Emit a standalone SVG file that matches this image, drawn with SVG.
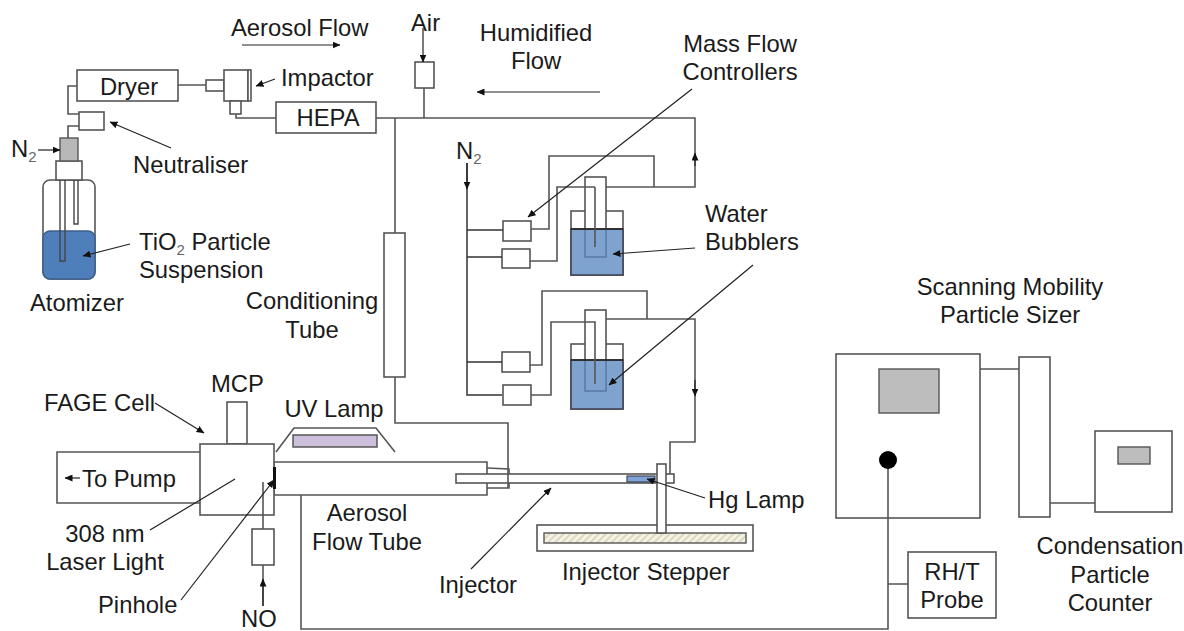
<svg xmlns="http://www.w3.org/2000/svg" width="1184" height="631" viewBox="0 0 1184 631">
<style>
text{font-family:"Liberation Sans",Arial,sans-serif;font-size:23.8px;fill:#1a1a1a}
.sub{font-size:15px;fill:#666}
.b{fill:#fff;stroke:#555;stroke-width:1.6}
.n{fill:none;stroke:#555;stroke-width:1.6}
.d{fill:none;stroke:#333;stroke-width:1.5}
.k{fill:none;stroke:#222;stroke-width:1.2}
.a{fill:none;stroke:#222;stroke-width:1.2;marker-end:url(#ah)}
.w{fill:#7fa3cf;stroke:#445;stroke-width:1.6}
</style>
<defs>
<marker id="ah" markerWidth="8" markerHeight="7" refX="7.5" refY="3.5" orient="auto" markerUnits="userSpaceOnUse"><path d="M0 0L8 3.5L0 7z" fill="#111"/></marker>
<pattern id="hatch" width="5" height="5" patternUnits="userSpaceOnUse" patternTransform="rotate(45)"><rect width="5" height="5" fill="#f4f2e4"/><rect width="2" height="5" fill="#ddd9c0"/></pattern>
</defs>
<rect width="1184" height="631" fill="#fff"/>
<g id="atomizer">
<rect class="b" x="43" y="180" width="52" height="99" rx="7"/>
<path d="M43 238a7 7 0 0 1 7-7h38a7 7 0 0 1 7 7v34a7 7 0 0 1-7 7H50a7 7 0 0 1-7-7z" fill="#4f7fbb" stroke="#3b5f8c" stroke-width="1.4"/>
<rect class="b" x="56" y="161" width="26" height="19"/>
<rect x="60" y="138" width="18" height="23" fill="#b8b8b8" stroke="#555" stroke-width="1.4"/>
<path d="M60 180V261H65V180M74 180V224H78V180" fill="none" stroke="#444" stroke-width="1.4"/>
</g>
<g id="dryer"><rect class="b" x="77" y="70" width="101" height="31"/></g>
<g id="neutraliser"><rect class="b" x="79" y="112" width="25" height="18"/></g>
<g id="impactor">
<rect class="b" x="206" y="80" width="18" height="11"/>
<rect class="b" x="224" y="70" width="24" height="31"/>
<rect class="b" x="248" y="70" width="3" height="31"/>
<rect class="b" x="230" y="101" width="11" height="13"/>
</g>
<g id="hepa"><rect class="b" x="276" y="102" width="100" height="31"/></g>
<g id="air-filter"><rect class="b" x="415" y="62" width="19" height="26"/></g>
<g id="conditioning-tube"><rect class="b" x="384" y="233" width="21" height="144"/></g>
<g id="mfc-1"><rect class="b" x="503" y="221" width="28" height="20"/></g>
<g id="mfc-2"><rect class="b" x="502" y="249" width="28" height="19"/></g>
<g id="mfc-3"><rect class="b" x="502" y="352" width="28" height="20"/></g>
<g id="mfc-4"><rect class="b" x="503" y="385" width="28" height="20"/></g>
<g id="bubbler-1">
<rect class="b" x="571" y="211" width="52" height="64"/>
<rect class="w" x="571" y="229" width="52" height="46"/>
<rect x="585" y="229" width="21" height="28" fill="none" stroke="#5577a0" stroke-width="1.4"/>
<rect x="585" y="177" width="21" height="52" class="b"/>
<path d="M571 229H623" stroke="#222" stroke-width="1.5"/>
</g>
<g id="bubbler-2">
<rect class="b" x="571" y="344" width="52" height="65"/>
<rect class="w" x="571" y="360" width="52" height="49"/>
<rect x="585" y="360" width="21" height="31" fill="none" stroke="#5577a0" stroke-width="1.4"/>
<rect x="585" y="310" width="21" height="50" class="b"/>
<path d="M571 360H623" stroke="#222" stroke-width="1.5"/>
</g>
<g id="pump"><path class="b" d="M200 452H57V503H200"/></g>
<g id="flow-tube">
<path class="b" d="M274 462H487V495H274z"/>
<path class="n" d="M487 468L509 469V488H487"/>
<path class="n" d="M276 452L294 428H376L395 452"/>
<rect x="293" y="435" width="84" height="12" fill="#cdbfdc" stroke="#555" stroke-width="1.5"/>
</g>
<g id="mcp"><rect class="b" x="227" y="402" width="20" height="42"/></g>
<g id="fage-cell">
<rect class="b" x="200" y="444" width="74" height="71"/>
<rect x="273" y="467" width="3" height="22" fill="#111"/>
</g>
<g id="no-regulator"><rect class="b" x="252" y="529" width="22" height="36"/></g>
<g id="injector">
<rect class="b" x="456" y="474" width="218" height="9"/>
<rect x="627" y="476" width="28" height="6" fill="#7fa3d6" stroke="#445" stroke-width="1.2"/>
</g>
<g id="injector-stepper">
<rect class="b" x="537" y="525" width="216" height="26"/>
<rect x="544" y="533" width="202" height="10" fill="url(#hatch)" stroke="#555" stroke-width="1.4"/>
<rect class="b" x="657" y="464" width="9" height="69"/>
</g>
<g id="smps">
<rect class="b" x="836" y="354" width="144" height="164"/>
<rect x="879" y="369" width="60" height="44" fill="#bdbdbd" stroke="#555" stroke-width="1.4"/>
<rect class="b" x="1019" y="357" width="31" height="160"/>
</g>
<g id="cpc">
<rect class="b" x="1095" y="431" width="77" height="81"/>
<rect x="1118" y="447" width="32" height="17" fill="#bdbdbd" stroke="#555" stroke-width="1.4"/>
</g>
<g id="rh-probe"><rect class="b" x="908" y="552" width="88" height="66"/></g>
<g id="connectors">
<path class="n" d="M77 86H68V114H79M79 126H68V138M178 85H206M236 114V118H276M376 118H695V187H606M654 187V156H549V229H531"/>
<path class="n" d="M424 88V118M395 118V233M395 377V423H508V488"/>
<path class="d" d="M467 163V395H502M467 230H503M467 257H502M467 362H502"/>
<path class="n" d="M530 261H557V187H595M595 187V247M531 395H551V322H595V384M530 365H542V291H647V319M606 319H695V442H670V474"/>
<path class="n" d="M301 495V629H888V460M888 584H908M980 369H1019M1050 503H1095"/>
<path class="n" d="M263 482V529M263 565V606"/>
<path class="a" d="M242 45H340"/>
<path class="a" d="M423 28V62"/>
<path class="a" d="M600 92H477"/>
<path class="a" d="M275 79L256 86"/>
<path class="a" d="M171 148L110 122"/>
<path class="a" d="M38 150H60"/>
<path class="a" d="M130 244L83 256"/>
<path class="a" d="M692 89L528 217"/>
<path class="a" d="M695 248L613 254"/>
<path class="a" d="M753 265L609 385"/>
<path class="a" d="M155 403L204 433"/>
<path class="k" d="M235 479L150 530"/>
<path class="a" d="M181 600L274 480"/>
<path class="a" d="M80 478H65"/>
<path class="a" d="M471 569L551 488"/>
<path class="a" d="M705 498L647 479"/>
<path class="a" d="M467 163V189"/>
<path class="a" d="M695 166V153"/>
<path class="a" d="M695 380V396"/>
<path class="a" d="M263 606V579"/>
<ellipse cx="888" cy="460" rx="9" ry="9" fill="#000"/>
</g>
<g id="labels">
<text x="231" y="36">Aerosol Flow</text>
<text x="411" y="31">Air</text>
<text x="536" y="41" text-anchor="middle">Humidified</text>
<text x="536" y="69" text-anchor="middle">Flow</text>
<text x="740" y="52" text-anchor="middle">Mass Flow</text>
<text x="740" y="80" text-anchor="middle">Controllers</text>
<text x="281" y="86">Impactor</text>
<text x="129" y="95" text-anchor="middle">Dryer</text>
<text x="328" y="126" text-anchor="middle">HEPA</text>
<text x="11" y="157">N<tspan class="sub" dy="5">2</tspan></text>
<text x="456" y="159">N<tspan class="sub" dy="5">2</tspan></text>
<text x="133" y="173">Neutraliser</text>
<text x="139" y="250">TiO<tspan class="sub" dy="5">2</tspan><tspan dy="-5"> Particle</tspan></text>
<text x="139" y="278">Suspension</text>
<text x="30" y="311">Atomizer</text>
<text x="312" y="309" text-anchor="middle">Conditioning</text>
<text x="312" y="338" text-anchor="middle">Tube</text>
<text x="705" y="222">Water</text>
<text x="705" y="250">Bubblers</text>
<text x="1010" y="295" text-anchor="middle">Scanning Mobility</text>
<text x="1010" y="323" text-anchor="middle">Particle Sizer</text>
<text x="211" y="392">MCP</text>
<text x="44" y="411">FAGE Cell</text>
<text x="334" y="417" text-anchor="middle">UV Lamp</text>
<text x="82" y="487">To Pump</text>
<text x="105" y="542" text-anchor="middle">308 nm</text>
<text x="105" y="570" text-anchor="middle">Laser Light</text>
<text x="367" y="521" text-anchor="middle">Aerosol</text>
<text x="367" y="550" text-anchor="middle">Flow Tube</text>
<text x="708" y="508">Hg Lamp</text>
<text x="439" y="593">Injector</text>
<text x="646" y="580" text-anchor="middle">Injector Stepper</text>
<text x="98" y="613">Pinhole</text>
<text x="241" y="627">NO</text>
<text x="952" y="580" text-anchor="middle">RH/T</text>
<text x="952" y="608" text-anchor="middle">Probe</text>
<text x="1110" y="554" text-anchor="middle">Condensation</text>
<text x="1110" y="583" text-anchor="middle">Particle</text>
<text x="1110" y="611" text-anchor="middle">Counter</text>
</g>
</svg>
